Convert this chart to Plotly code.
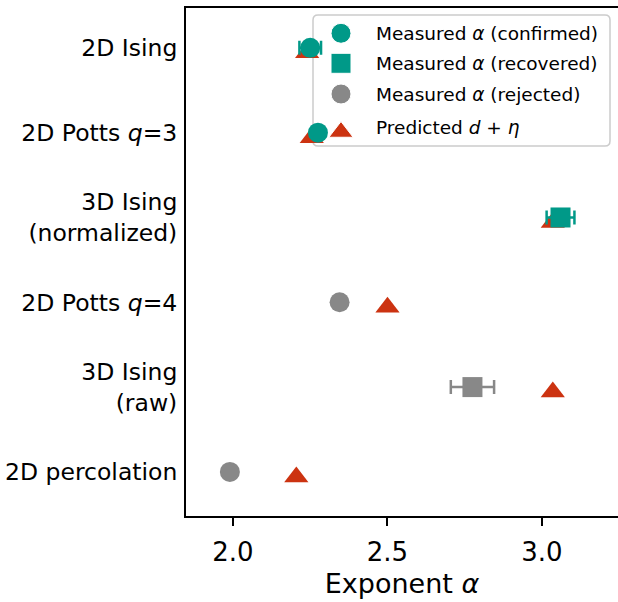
import plotly.graph_objects as go

categories = ["2D Ising", "2D Potts <i>q</i>=3", "3D Ising<br>(normalized)",
              "2D Potts <i>q</i>=4", "3D Ising<br>(raw)", "2D percolation"]
cat_pos = [0, 1, 2, 3, 4, 5]

predicted = [2.24, 2.255, 3.035, 2.50, 3.035, 2.205]

# measured values by status
conf_y = [0, 1]
conf_x = [2.25, 2.275]
conf_err = [0.035, 0.0]

rec_y = [2]
rec_x = [3.06]
rec_err = [0.045]

rej_circle_y = [3, 5]
rej_circle_x = [2.345, 1.99]
rej_sq_y = [4]
rej_sq_x = [2.775]
rej_sq_err = [0.07]

x_ticks = [2.0, 2.5, 3.0]
x_tick_text = ["2.0", "2.5", "3.0"]

legend_labels = ["Measured <i>α</i> (confirmed)", "Measured <i>α</i> (recovered)",
                 "Measured <i>α</i> (rejected)", "Predicted <i>d</i> + <i>η</i>"]

TEAL = "#009988"
RED = "#CC3311"
GREY = "#888888"
FONT = "DejaVu Sans"

# plot-area geometry (px)
W, H = 618, 602
L, R, T, B = 186, 0, 8, 86
PW, PH = W - L - R, H - T - B
YR = [5.52, -0.47]
px_per_unit = PH / (YR[0] - YR[1])
tri_shift = 5.0 / px_per_unit  # centre plotly triangle bbox on row

def fx(px):
    return (px - L) / PW

def fy(py):
    return (H - B - py) / PH

fig = go.Figure()

# rejected circles on the main axes (they never overlap a triangle)
fig.add_trace(go.Scatter(
    x=rej_circle_x, y=rej_circle_y, mode="markers", showlegend=False,
    marker=dict(symbol="circle", size=20, color=GREY, opacity=1)))

# predicted triangles (overlay y3, shifted so the triangle bbox is centred on the row)
fig.add_trace(go.Scatter(
    x=predicted, y=cat_pos, mode="markers", yaxis="y3", showlegend=False,
    marker=dict(symbol="triangle-up", size=21, color=RED, opacity=1)))

# measured points on overlay y4 (same scale as y) so they are drawn above triangles
fig.add_trace(go.Scatter(
    x=rec_x, y=rec_y, mode="markers", yaxis="y4", showlegend=False,
    marker=dict(symbol="square", size=20, color=TEAL, opacity=1),
    error_x=dict(type="data", array=rec_err, color=TEAL, thickness=2.5, width=7)))

fig.add_trace(go.Scatter(
    x=conf_x, y=conf_y, mode="markers", yaxis="y4", showlegend=False,
    marker=dict(symbol="circle", size=20, color=TEAL, opacity=1),
    error_x=dict(type="data", array=conf_err, color=TEAL, thickness=2.5, width=7)))

fig.add_trace(go.Scatter(
    x=rej_sq_x, y=rej_sq_y, mode="markers", yaxis="y4", showlegend=False,
    marker=dict(symbol="square", size=20, color=GREY, opacity=1),
    error_x=dict(type="data", array=rej_sq_err, color=GREY, thickness=2.5, width=7)))

# ---- legend drawn in an overlay axis (paper-like 0..1 coordinates) ----
leg_rows_px = [33.3, 63.3, 94.0, 127.0]
leg_key_x = fx(341)
leg_text_x = fx(374)
leg_symbols = ["circle", "square", "circle", "triangle-up"]
leg_colors = [TEAL, TEAL, GREY, RED]
leg_sizes = [20, 20, 20, 21]
key_y = [fy(p + (5.0 if s == "triangle-up" else 0.0)) for p, s in zip(leg_rows_px, leg_symbols)]
fig.add_trace(go.Scatter(
    x=[leg_key_x] * 4, y=key_y, xaxis="x2", yaxis="y2", mode="markers",
    showlegend=False, hoverinfo="skip",
    marker=dict(symbol=leg_symbols, size=leg_sizes, color=leg_colors, opacity=1)))

for lab, p in zip(legend_labels, leg_rows_px):
    fig.add_annotation(x=leg_text_x, y=fy(p), xref="paper", yref="paper", text=lab,
                       showarrow=False, xanchor="left", yanchor="middle",
                       font=dict(family=FONT, size=18.5, color="black"))

# rounded legend frame
x0, x1, y0, y1 = 313, 610, 15, 146
r = 5
path = (f"M{fx(x0 + r)},{fy(y0)} L{fx(x1 - r)},{fy(y0)} "
        f"Q{fx(x1)},{fy(y0)} {fx(x1)},{fy(y0 + r)} L{fx(x1)},{fy(y1 - r)} "
        f"Q{fx(x1)},{fy(y1)} {fx(x1 - r)},{fy(y1)} L{fx(x0 + r)},{fy(y1)} "
        f"Q{fx(x0)},{fy(y1)} {fx(x0)},{fy(y1 - r)} L{fx(x0)},{fy(y0 + r)} "
        f"Q{fx(x0)},{fy(y0)} {fx(x0 + r)},{fy(y0)} Z")
fig.add_shape(type="path", path=path, xref="paper", yref="paper", layer="below",
              fillcolor="rgba(255,255,255,0.85)", line=dict(color="#cccccc", width=1.5))

fig.update_layout(
    width=W, height=H,
    margin=dict(l=L, r=R, t=T, b=B),
    plot_bgcolor="white", paper_bgcolor="white",
    font=dict(family=FONT, color="black"),
    showlegend=False,
    xaxis=dict(
        range=[1.848, 3.246], tickvals=x_ticks, ticktext=x_tick_text,
        showgrid=False, zeroline=False,
        showline=True, linecolor="black", linewidth=2, mirror=True,
        ticks="outside", ticklen=8, tickwidth=2, tickcolor="black",
        tickfont=dict(family=FONT, size=26), ticklabelstandoff=4,
        title=dict(text="Exponent <i>α</i>", font=dict(family=FONT, size=27), standoff=8),
    ),
    yaxis=dict(
        range=YR, tickvals=cat_pos, ticktext=categories,
        showgrid=False, zeroline=False,
        showline=True, linecolor="black", linewidth=2, mirror=False,
        ticks="", tickfont=dict(family=FONT, size=23.5), ticklabelstandoff=2,
    ),
    xaxis2=dict(overlaying="x", range=[0, 1], visible=False, fixedrange=True),
    yaxis2=dict(overlaying="y", range=[0, 1], visible=False, fixedrange=True),
    yaxis3=dict(overlaying="y", range=[YR[0] - tri_shift, YR[1] - tri_shift],
                visible=False, fixedrange=True),
    yaxis4=dict(overlaying="y", range=YR, visible=False, fixedrange=True),
)

fig.write_html("out.html")
